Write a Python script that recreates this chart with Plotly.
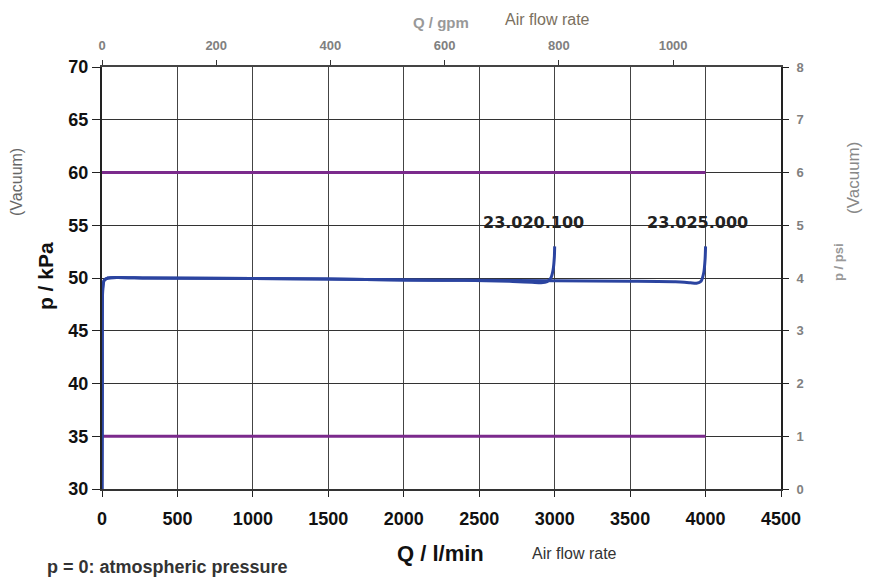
import plotly.graph_objects as go

# Data
flow_a = [0, 2, 5, 15, 40, 100, 300, 1000, 1500, 2000, 2400, 2700, 2850, 2910, 2950, 2975, 2990, 2998, 3000]
press_a = [30, 40, 49, 49.8, 50.0, 50.05, 50.0, 49.95, 49.9, 49.8, 49.78, 49.7, 49.6, 49.55, 49.65, 50.0, 50.8, 52.0, 53.0]
flow_b = [0, 2, 5, 15, 40, 100, 300, 1000, 1500, 2000, 2500, 3000, 3500, 3800, 3900, 3940, 3970, 3988, 3997, 4000]
press_b = [30, 40, 49, 49.8, 50.0, 50.05, 50.0, 49.95, 49.9, 49.8, 49.78, 49.75, 49.7, 49.65, 49.55, 49.5, 49.7, 50.5, 51.8, 53.0]
limit_x = [0, 4000]
limit_upper = [60, 60]
limit_lower = [35, 35]
labels = ["23.020.100", "23.025.000"]
label_x = [2860, 3948]
label_y = [55.3, 55.3]

x_ticks = list(range(0, 4501, 500))
y_ticks = list(range(30, 71, 5))
gpm_ticks = list(range(0, 1001, 200))
psi_ticks = list(range(0, 9))
LPM_PER_GPM = 3.785

fig = go.Figure()
purple = "#7B2A8C"
blue = "#2B44A0"
fig.add_trace(go.Scatter(x=limit_x, y=limit_upper, mode="lines", line=dict(color=purple, width=3), showlegend=False))
fig.add_trace(go.Scatter(x=limit_x, y=limit_lower, mode="lines", line=dict(color=purple, width=3), showlegend=False))
fig.add_trace(go.Scatter(x=flow_b, y=press_b, mode="lines", line=dict(color=blue, width=3, shape="spline", smoothing=0.6), showlegend=False))
fig.add_trace(go.Scatter(x=flow_a, y=press_a, mode="lines", line=dict(color=blue, width=3, shape="spline", smoothing=0.6), showlegend=False))
# invisible trace for secondary axes
fig.add_trace(go.Scatter(x=[0], y=[0], xaxis="x2", yaxis="y2", mode="markers", marker=dict(opacity=0), showlegend=False, hoverinfo="skip"))

for t, xv, yv in zip(labels, label_x, label_y):
    fig.add_annotation(x=xv, y=yv, text="<b>%s</b>" % t, showarrow=False,
                       xanchor="center", yanchor="middle",
                       font=dict(family="DejaVu Sans", size=16, color="#222222"))

ann = [
    ("<b>Q / gpm</b>", 0.4993, 1.1066, 15, "#999999", 0),
    ("Air flow rate", 0.6568, 1.1137, 16, "#7a7060", 0),
    ("<b>p / kPa</b>", -0.0839, 0.5047, 21, "#111111", -90),
    ("(Vacuum)", -0.1252, 0.7275, 16, "#666666", -90),
    ("<b>p / psi</b>", 1.0840, 0.5379, 13, "#999999", -90),
    ("(Vacuum)", 1.1075, 0.7370, 17, "#888888", -90),
    ("<b>Q / l/min</b>", 0.4978, -0.1517, 22, "#111111", 0),
    ("Air flow rate", 0.6966, -0.1540, 16, "#333333", 0),
]
for t, xp, yp, sz, col, ang in ann:
    fig.add_annotation(x=xp, y=yp, xref="paper", yref="paper", text=t, showarrow=False,
                       xanchor="center", yanchor="middle",
                       textangle=ang, font=dict(family="Liberation Sans", size=sz, color=col))
fig.add_annotation(x=-0.0839, y=-0.1848, xref="paper", yref="paper", xanchor="left", yanchor="middle",
                   text="<b>p = 0: atmospheric pressure</b>", showarrow=False,
                   font=dict(family="Liberation Sans", size=18, color="#333333"))

fig.update_layout(
    width=875, height=579,
    margin=dict(l=102, r=94, t=67, b=90),
    plot_bgcolor="white", paper_bgcolor="white",
    font=dict(family="Liberation Sans"),
    xaxis=dict(range=[0, 4500], tickvals=x_ticks, showgrid=True, gridcolor="#444444", gridwidth=1,
               showline=True, linecolor="#333333", linewidth=2, ticks="outside", ticklen=6,
               tickcolor="#222222", zeroline=False, ticklabelstandoff=6,
               tickfont=dict(family="Liberation Sans", size=18, color="#111111", weight="bold")),
    yaxis=dict(range=[30, 70], tickvals=y_ticks, showgrid=True, gridcolor="#333333", gridwidth=1,
               showline=True, linecolor="#222222", linewidth=2, ticks="outside", ticklen=8,
               tickcolor="#222222", zeroline=False, ticklabelstandoff=0,
               tickfont=dict(family="Liberation Sans", size=18, color="#111111", weight="bold")),
    xaxis2=dict(range=[0, 4500 / LPM_PER_GPM], overlaying="x", side="top", tickvals=gpm_ticks,
                showgrid=False, showline=True, linecolor="#444444", linewidth=2, ticks="outside", ticklen=5,
                tickcolor="#333333", zeroline=False, ticklabelstandoff=5,
                tickfont=dict(family="Liberation Sans", size=13, color="#808080", weight="bold")),
    yaxis2=dict(range=[0, 8], overlaying="y", side="right", tickvals=psi_ticks, anchor="x",
                showgrid=False, showline=True, linecolor="#222222", linewidth=2, ticks="outside", ticklen=6,
                tickcolor="#222222", zeroline=False, ticklabelstandoff=5,
                tickfont=dict(family="Liberation Sans", size=13, color="#808080", weight="bold")),
)

fig.write_html("out.html", post_script="document.body.style.margin='0';",
               config={"displayModeBar": False})
